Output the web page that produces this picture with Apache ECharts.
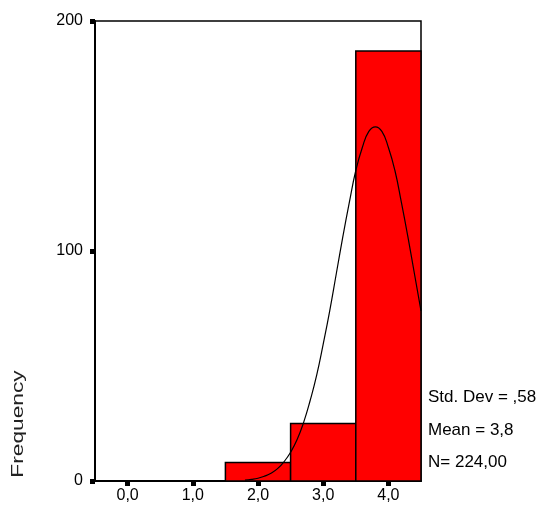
<!DOCTYPE html>
<html>
<head>
<meta charset="utf-8">
<script src="https://cdn.jsdelivr.net/npm/echarts@6/dist/echarts.min.js"></script>
<style>
html,body{margin:0;padding:0;background:#fff;}
#c{width:545px;height:506px;}
</style>
</head>
<body>
<div id="c"></div>
<script>
// Histogram bins (centers) and counts
const binCenters = [0, 1, 2, 3, 4];
const binCounts = [0, 0, 8, 25, 187];
const binWidth = 1;
// Fitted normal curve
const curveX = [1.8, 1.9, 2.0, 2.1, 2.2, 2.3, 2.4, 2.5, 2.6, 2.7, 2.8, 2.9, 3.0, 3.1, 3.2, 3.3, 3.4, 3.5, 3.6, 3.7, 3.8, 3.9, 4.0, 4.1, 4.2, 4.3, 4.4, 4.5];
const curveY = [0.4, 0.7, 1.2, 2.1, 3.4, 5.4, 8.4, 12.5, 18, 25.5, 35, 46, 59.5, 74, 90, 106, 121, 135, 145, 152, 154, 152, 145, 135, 121, 106, 90, 74];
const xTicks = [0, 1, 2, 3, 4];
const yTicks = [0, 100, 200];
const statsLines = ['Std. Dev = ,58', 'Mean = 3,8', 'N= 224,00'];
const yTitle = 'Frequency';

const bins = binCenters.map((c, i) => [c - binWidth / 2, c + binWidth / 2, binCounts[i]]);
const curve = curveX.map((x, i) => [x, curveY[i]]);

const chart = echarts.init(document.getElementById('c'), null, {renderer: 'canvas'});
const FONT = '"Liberation Sans", Arial, sans-serif';
chart.setOption({
  animation: false,
  backgroundColor: '#fff',
  grid: {left: 95, right: 124, top: 21, bottom: 25, show: true, borderColor: '#000', borderWidth: 1.5, backgroundColor: 'transparent'},
  xAxis: {
    type: 'value', min: -0.5, max: 4.5,
    axisLine: {show: true, onZero: false, lineStyle: {color: '#000', width: 2}},
    axisTick: {show: true, customValues: xTicks, length: 5, lineStyle: {color: '#000', width: 5}},
    axisLabel: {customValues: xTicks, color: '#000', fontSize: 16, fontFamily: FONT, margin: 7,
      formatter: v => v.toFixed(1).replace('.', ',')},
    splitLine: {show: false}
  },
  yAxis: {
    type: 'value', min: yTicks[0], max: yTicks[yTicks.length - 1], interval: 100,
    axisLine: {show: true, onZero: false, lineStyle: {color: '#000', width: 2}},
    axisTick: {show: true, length: 5, lineStyle: {color: '#000', width: 5}},
    axisLabel: {color: '#000', fontSize: 16, fontFamily: FONT, margin: 12},
    splitLine: {show: false}
  },
  series: [
    {
      type: 'custom',
      data: bins,
      renderItem: function (params, api) {
        const s = api.value(0), e = api.value(1), c = api.value(2);
        if (c <= 0) return null;
        const p0 = api.coord([s, c]);
        const p1 = api.coord([e, 0]);
        return {
          type: 'rect',
          shape: {x: p0[0], y: p0[1], width: p1[0] - p0[0], height: p1[1] - p0[1]},
          style: {fill: '#ff0000', stroke: '#000', lineWidth: 1.5}
        };
      },
      encode: {x: [0, 1], y: 2},
      z: 2
    },
    {
      type: 'line',
      data: curve,
      smooth: true,
      showSymbol: false,
      lineStyle: {color: '#000', width: 1.2},
      z: 3
    }
  ],
  graphic: [
    {type: 'text', x: 428, y: 397, style: {text: statsLines[0], font: '17px ' + FONT, fill: '#000', verticalAlign: 'middle'}},
    {type: 'text', x: 428, y: 430, style: {text: statsLines[1], font: '17px ' + FONT, fill: '#000', verticalAlign: 'middle'}},
    {type: 'text', x: 428, y: 462, style: {text: statsLines[2], font: '17px ' + FONT, fill: '#000', verticalAlign: 'middle'}},
    {type: 'text', x: 19, y: 424, rotation: Math.PI / 2, scaleX: 1.42,
      style: {text: yTitle, font: '16px ' + FONT, fill: '#222', align: 'center', verticalAlign: 'middle'}}
  ]
});
</script>
</body>
</html>
